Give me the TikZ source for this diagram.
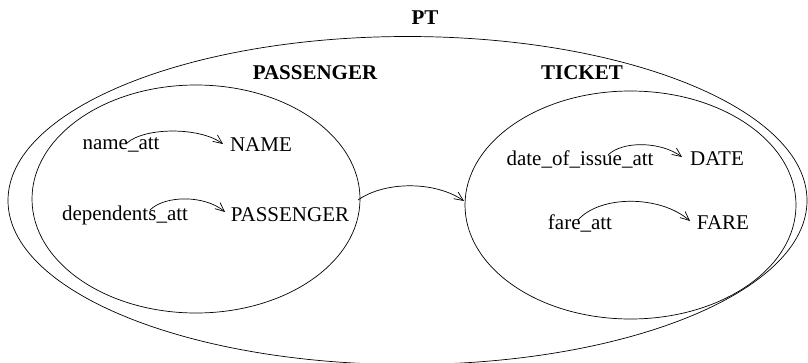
\documentclass[tikz,border=0pt]{standalone}
\usepackage{fontspec}
\setmainfont{Liberation Serif}
\usetikzlibrary{arrows.meta}
\tikzset{
  lbl/.style={font=\fontsize{21}{23}\selectfont, inner sep=0pt, anchor=center},
  blbl/.style={font=\fontsize{21}{23}\selectfont\bfseries, inner sep=0pt, anchor=center},
  arr/.style={-{Straight Barb[length=9pt,width=8pt]}, line width=0.7pt},
  ring/.style={draw, line width=0.7pt}
}
\begin{document}
\begin{tikzpicture}[x=1pt,y=-1pt]
\useasboundingbox (0,0) rectangle (808,362);
% ellipses
\draw[ring] (407.5,200.5) ellipse [x radius=399.5, y radius=164];
\draw[ring] (196,199) ellipse [x radius=164, y radius=114];
\draw[ring] (630.5,205) ellipse [x radius=165.5, y radius=114];
% labels
\node[blbl] (pt) at (425,18) {PT};
\node[blbl] (passT) at (315,73) {PASSENGER};
\node[blbl] (tickT) at (582,73) {TICKET};
\node[lbl] (nameatt) at (121,145) {name\_att};
\node[lbl] (name) at (261,145) {NAME};
\node[lbl] (depatt) at (125,215) {dependents\_att};
\node[lbl] (pass) at (290,215) {PASSENGER};
\node[lbl] (dateatt) at (580,159) {date\_of\_issue\_att};
\node[lbl] (date) at (717,159) {DATE};
\node[lbl] (fareatt) at (580,223) {fare\_att};
\node[lbl] (fare) at (723,223) {FARE};
% arrow endpoints
\coordinate (a1) at (127,143); \coordinate (b1) at (223,144);
\coordinate (a2) at (150,210); \coordinate (b2) at (225,212);
\coordinate (a3) at (608,155); \coordinate (b3) at (682,157);
\coordinate (a4) at (578,220); \coordinate (b4) at (690,221);
\coordinate (a5) at (358,200); \coordinate (b5) at (464,201);
\draw[arr] (a1) .. controls (145,127) and (200,127) .. (b1);
\draw[arr] (a2) .. controls (165,195) and (205,195) .. (b2);
\draw[arr] (a3) .. controls (622,141) and (660,141) .. (b3);
\draw[arr] (a4) .. controls (600,195) and (660,195) .. (b4);
\draw[arr] (a5) .. controls (385,181) and (435,181) .. (b5);
\end{tikzpicture}
\end{document}
